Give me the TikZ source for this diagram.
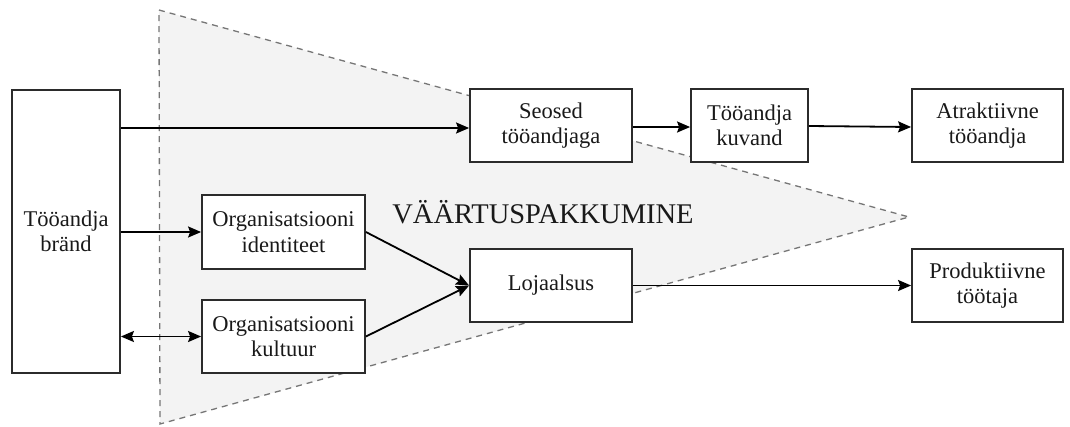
\documentclass[tikz,border=0pt]{standalone}
\usepackage{fontspec}
\setmainfont{Liberation Serif}
\usetikzlibrary{arrows.meta,calc}
\definecolor{boxline}{HTML}{2B2B2B}
\definecolor{zonefill}{HTML}{F3F3F3}
\definecolor{zoneline}{HTML}{767676}
\tikzset{
  blk/.style={draw=boxline, line width=1.8pt, fill=white, minimum height=73pt,
    align=center, inner sep=0pt, font=\fontsize{22.5}{25.5}\selectfont, text=black!90},
  tip/.tip={Stealth[length=13pt,width=11pt,inset=2pt]},
  conn/.style={line width=1.8pt, -tip},
  zone/.style={draw=zoneline, fill=zonefill, line width=1.3pt, dash pattern=on 6pt off 5pt}
}
\begin{document}
\begin{tikzpicture}[x=1pt,y=-1pt]
\useasboundingbox (0,0) rectangle (1070,426);
% value proposition zone
\draw[zone] (159,10) -- (909,217) -- (160,424) -- cycle;
\node[anchor=base, font=\fontsize{28.5}{32}\selectfont, text=black!90] (vp) at (543,223) {VÄÄRTUSPAKKUMINE};
% blocks
\node[blk, minimum width=108pt, minimum height=283pt] (brand) at (66,231.5) {Tööandja\\bränd};
\node[blk, minimum width=162pt] (seosed) at (551,125.5) {Seosed\\tööandjaga};
\node[blk, minimum width=117pt] (kuvand) at (749.5,125.5) {Tööandja\\kuvand};
\node[blk, minimum width=151pt] (atrakt) at (987.5,125.5) {Atraktiivne\\tööandja};
\node[blk, minimum width=163pt, minimum height=74pt] (ident) at (283.5,232) {Organisatsiooni\\identiteet};
\node[blk, minimum width=163pt] (kultuur) at (283.5,336.5) {Organisatsiooni\\kultuur};
\node[blk, minimum width=162pt] (loj) at (551,285.5) {Lojaalsus};
\node[blk, minimum width=151pt] (prod) at (987.5,285.5) {Produktiivne\\töötaja};
% connectors
\draw[conn] (brand.east |- 0,128) -- (seosed.west |- 0,128);
\draw[conn] (seosed.east |- 0,127) -- (kuvand.west |- 0,127);
\draw[conn] (kuvand.east |- 0,126) -- (atrakt.west |- 0,127);
\draw[conn] (brand.east |- ident.west) -- (ident.west);
\draw[conn, tip-tip] (brand.east |- kultuur.west) -- (kultuur.west);
\draw[conn] (ident.east) -- (loj.west);
\draw[conn] (kultuur.east) -- (loj.west);
\draw[conn] (loj.east) -- (prod.west);
\end{tikzpicture}
\end{document}
